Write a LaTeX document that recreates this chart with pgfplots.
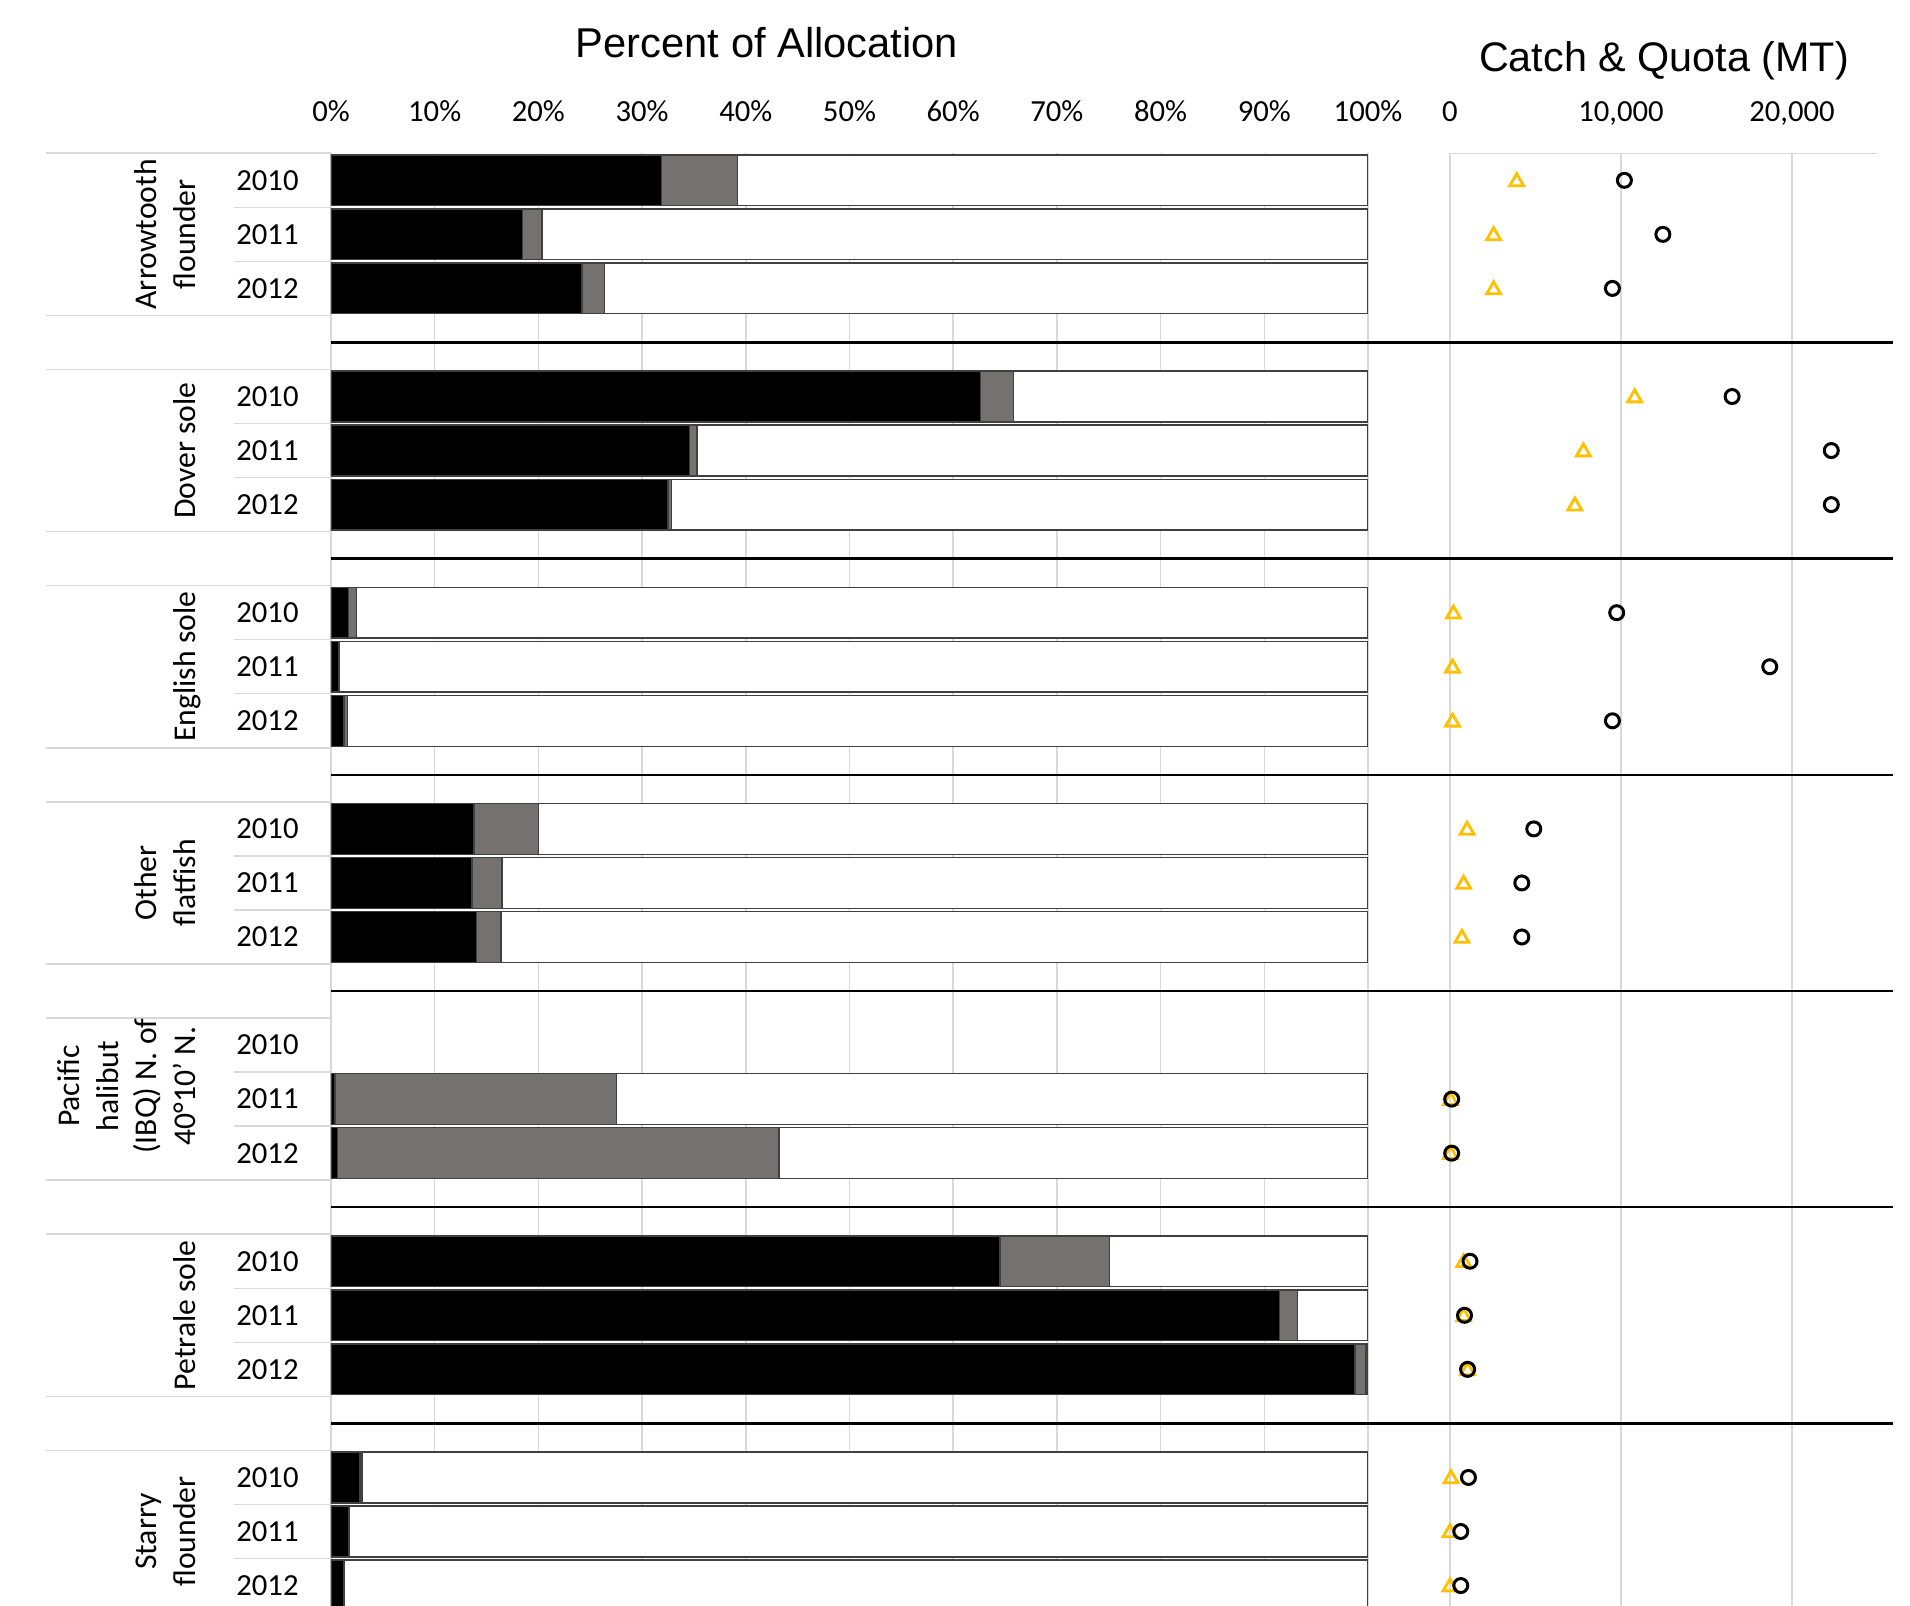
\documentclass[border=0pt]{standalone}
\usepackage{fontspec}
\setmainfont{Carlito}
\newfontfamily\titlefont{Liberation Sans}
\usepackage{pgfplots}
\usepackage{pgfplotstable}
\pgfplotsset{compat=1.18}

\definecolor{bargray}{HTML}{767171}
\definecolor{edge}{HTML}{404040}
\definecolor{gridc}{HTML}{D9D9D9}
\definecolor{landc}{HTML}{FFC000}

% percent of allocation: row index (spacer rows 3,7,...), black part, grey part, remainder
\pgfplotstableread{
idx catch extra rest
0  31.85  7.35 60.80
1  18.45  1.90 79.65
2  24.20  2.20 73.60
4  62.65  3.15 34.20
5  34.60  0.70 64.70
6  32.50  0.35 67.15
8   1.67  0.81 97.52
9   0.77  0.08 99.15
10  1.25  0.32 98.43
12 13.80  6.20 80.00
13 13.60  2.90 83.50
14 14.00  2.40 83.60
17  0.40 27.15 72.45
18  0.60 42.60 56.80
20 64.50 10.55 24.95
21 91.45  1.75  6.80
22 98.75  1.05  0.20
24  2.80  0.20 97.00
25  1.74  0.06 98.20
26  1.25  0.05 98.70
}\pcttab

% catch (triangles) and quota (circles), MT
\pgfplotstableread{
idx landed quota
0   3900 10200
1   2550 12450
2   2550  9500
4  10800 16500
5   7800 22300
6   7300 22300
8    200  9750
9    150 18700
10   150  9500
12  1000  4900
13   800  4200
14   700  4200
17    30   100
18    30   100
20   800  1170
21   800   850
22  1030  1030
24    60  1080
25     0   630
26     0   630
}\mttab

\begin{document}
\begin{tikzpicture}[x=0.3pt,y=0.3pt]
\path[use as bounding box] (0,0) rectangle (1910,1606);

\pgfplotsset{
  panel/.style={
    anchor=south west, scale only axis, height=435.8pt,
    ymin=-26.378, ymax=0.5,
    axis line style={draw=none},
    major tick length=0pt,
    scaled x ticks=false,
    xticklabel pos=top,
    xticklabel style={anchor=base, yshift=9.5pt},
    ticklabel style={font=\fontsize{9.2}{11}\selectfont},
    xmajorgrids, grid style={gridc, line width=0.45pt},
  }
}

\begin{axis}[panel, at={(99.3pt,0pt)}, width=311.1pt,
  xmin=0, xmax=100,
  xbar stacked, bar width=0.94,
  xtick={0,10,20,30,40,50,60,70,80,90,100},
  xticklabels={0\%,10\%,20\%,30\%,40\%,50\%,60\%,70\%,80\%,90\%,100\%},
  ytick={-26,-25,-24,-22,-21,-20,-18,-17,-16,-14,-13,-12,-10,-9,-8,-6,-5,-4,-2,-1,0},
  yticklabels={2012,2011,2010,2012,2011,2010,2012,2011,2010,2012,2011,2010,2012,2011,2010,2012,2011,2010,2012,2011,2010},
  yticklabel style={xshift=-6.2pt},
]
\addplot[fill=black, draw=edge, line width=0.4pt] table[x=catch, y expr=-\thisrow{idx}] {\pcttab};
\addplot[fill=bargray, draw=edge, line width=0.4pt] table[x=extra, y expr=-\thisrow{idx}] {\pcttab};
\addplot[fill=white, draw=edge, line width=0.4pt] table[x=rest, y expr=-\thisrow{idx}] {\pcttab};
\end{axis}

\begin{axis}[panel, at={(435pt,0pt)}, width=128.25pt,
  xmin=0, xmax=25000, clip=false,
  xtick={0,10000,20000}, xticklabels={0,{10,000},{20,000}},
  ytick=\empty,
]
\draw[gridc, line width=0.45pt] (axis cs:0,0.5) -- (axis cs:25000,0.5);
\addplot[only marks, mark=triangle, mark size=2.4pt,
  mark options={draw=landc, fill=none, line width=0.85pt, yshift=-0.4pt}]
  table[x=landed, y expr=-\thisrow{idx}] {\mttab};
\addplot[only marks, mark=o, mark size=2.1pt,
  mark options={draw=black, fill=none, line width=0.9pt}]
  table[x=quota, y expr=-\thisrow{idx}] {\mttab};
\end{axis}

% group separators
\foreach \k in {3,7,11,15,19,23}
  \draw[black, line width=0.75pt] (331,{1425.7-54.05*\k}) -- (1893,{1425.7-54.05*\k});

% category table lines on the left
\foreach \g in {0,...,6} {
  \draw[gridc, line width=0.45pt] (46,{1425.7-54.05*(4*\g-0.5)}) -- (331,{1425.7-54.05*(4*\g-0.5)});
  \draw[gridc, line width=0.45pt] (46,{1425.7-54.05*(4*\g+2.5)}) -- (331,{1425.7-54.05*(4*\g+2.5)});
  \draw[gridc, line width=0.45pt] (234,{1425.7-54.05*(4*\g+0.5)}) -- (331,{1425.7-54.05*(4*\g+0.5)});
  \draw[gridc, line width=0.45pt] (234,{1425.7-54.05*(4*\g+1.5)}) -- (331,{1425.7-54.05*(4*\g+1.5)});
}

\tikzset{grp/.style={rotate=90, anchor=south, align=center, inner sep=0pt,
  text depth=0pt, font=\fontsize{9.5}{11.6}\selectfont}}
\node[grp] at (196,{1425.7-54.05*1})  {Arrowtooth\\flounder};
\node[grp] at (196,{1425.7-54.05*5})  {Dover sole};
\node[grp] at (196,{1425.7-54.05*9})  {English sole};
\node[grp] at (196,{1425.7-54.05*13}) {Other\\flatfish};
\node[grp] at (196,{1425.7-54.05*17+13}) {Pacific\\halibut\\(IBQ) N. of\\40°10’ N.};
\node[grp] at (196,{1425.7-54.05*21}) {Petrale sole};
\node[grp] at (196,{1425.7-54.05*25}) {Starry\\flounder};

% titles
\node[anchor=base, font=\titlefont\fontsize{12.5}{15}\selectfont] at (767,1548) {Percent of Allocation};
\node[anchor=base, font=\titlefont\fontsize{12.4}{14}\selectfont] at (1664,1534) {Catch \& Quota (MT)};
\end{tikzpicture}
\end{document}
